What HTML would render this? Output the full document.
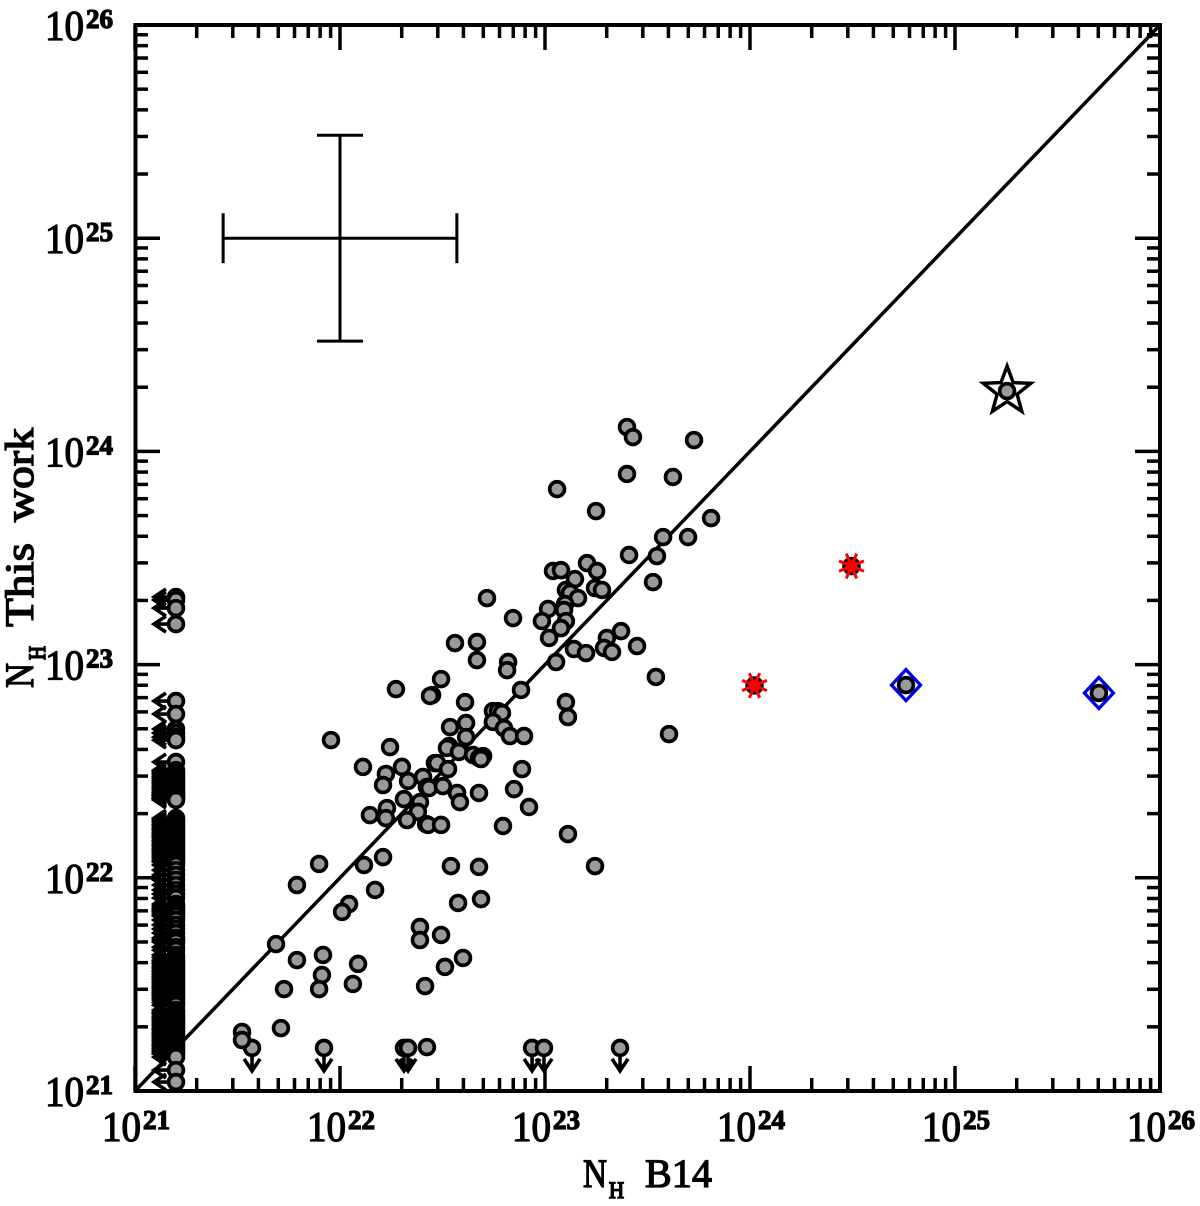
<!DOCTYPE html>
<html lang="en">
<head>
<meta charset="utf-8">
<title>NH comparison chart</title>
<style>
html,body{margin:0;padding:0;background:#fff;}
svg{display:block;}
text{font-family:"Liberation Serif",serif;fill:#000;stroke:#000;}
</style>
</head>
<body>
<svg id="chart" width="1200" height="1206" viewBox="0 0 1200 1206" xmlns="http://www.w3.org/2000/svg">
<rect width="1200" height="1206" fill="#fff"/>
<g id="ticks"></g>
<g id="ticklabels"></g>
<g id="marks"></g>
<rect x="135.5" y="25" width="1024.5" height="1066" fill="none" stroke="#000" stroke-width="4"/>
<g>
<text x="583" y="1187" font-size="40" stroke-width="1.3" textLength="24" lengthAdjust="spacingAndGlyphs">N</text>
<text x="609" y="1198" font-size="23" stroke-width="1.6" textLength="15" lengthAdjust="spacingAndGlyphs">H</text>
<text x="645" y="1187" font-size="40" stroke-width="1.3" textLength="67" lengthAdjust="spacing">B14</text>
</g>
<g>
<text transform="translate(33 688) rotate(-90)" font-size="40" stroke-width="1.3" textLength="25" lengthAdjust="spacingAndGlyphs">N</text>
<text transform="translate(45 660) rotate(-90)" font-size="23" stroke-width="1.6" textLength="14" lengthAdjust="spacingAndGlyphs">H</text>
<text transform="translate(33 627) rotate(-90)" font-size="40" stroke-width="1.3" textLength="84" lengthAdjust="spacingAndGlyphs">This</text>
<text transform="translate(33 522) rotate(-90)" font-size="40" stroke-width="1.3" textLength="94" lengthAdjust="spacingAndGlyphs">work</text>
</g>
</svg>
<script>
// all values are log10(NH)
const axisMin = 21;
const axisMax = 26;
const decades = [21, 22, 23, 24, 25, 26];
const tickExponents = ["21", "22", "23", "24", "25", "26"];
const minorFactors = [2, 3, 4, 5, 6, 7, 8, 9];

const detectionsX = [23.400,23.429,23.727,23.400,23.624,23.059,23.249,23.810,23.576,23.698,23.410,23.546,23.205,23.254,23.039,23.078,23.527,23.146,23.102,23.122,23.161,23.098,23.093,23.244,23.278,22.717,23.015,22.985,22.844,23.102,23.078,23.020,23.141,23.200,23.371,23.302,23.288,23.327,23.449,22.561,22.668,22.668,22.820,22.815,23.054,23.541,22.883,22.493,22.273,22.449,22.439,22.610,23.102,23.112,22.746,22.771,22.790,22.746,22.800,22.829,22.898,23.605,22.615,22.537,22.615,21.956,22.244,22.532,22.522,22.580,22.649,22.698,22.678,22.688,22.463,22.473,22.527,22.112,22.302,22.888,22.224,22.210,22.332,22.405,22.424,22.434,22.502,22.849,22.571,22.678,22.585,22.922,22.312,22.390,22.380,22.229,22.224,22.146,22.327,22.420,22.429,22.493,22.795,23.112,22.210,21.898,22.117,22.541,22.678,23.244,21.790,22.171,22.576,22.688,22.044,22.010,22.390,22.390,22.493,21.688,21.790,21.917,21.912,22.088,22.512,22.600,21.898,22.063,21.727,22.415,21.712,21.522,21.522,22.424];
const detectionsY = [24.114,24.067,24.053,23.894,23.880,23.823,23.720,23.687,23.598,23.598,23.514,23.509,23.476,23.439,23.439,23.443,23.387,23.401,23.350,23.336,23.312,23.284,23.256,23.359,23.350,23.312,23.261,23.204,23.218,23.204,23.171,23.125,23.073,23.054,23.157,23.125,23.078,23.059,23.087,23.101,23.106,23.021,23.012,22.974,23.012,22.942,22.881,22.932,22.885,22.857,22.853,22.824,22.824,22.754,22.782,22.782,22.773,22.731,22.702,22.665,22.665,22.674,22.726,22.707,22.660,22.646,22.613,22.618,22.609,22.590,22.576,22.571,22.562,22.557,22.538,22.538,22.510,22.520,22.520,22.510,22.487,22.435,22.454,22.473,22.426,22.421,22.430,22.416,22.398,22.398,22.355,22.332,22.369,22.355,22.309,22.327,22.280,22.294,22.271,22.252,22.248,22.248,22.243,22.205,22.097,22.065,22.060,22.055,22.051,22.055,21.966,21.943,21.882,21.900,21.877,21.840,21.769,21.708,21.732,21.689,21.614,21.638,21.544,21.596,21.582,21.624,21.478,21.502,21.478,21.492,21.295,21.277,21.239,21.206];

const upperLimitX = [21.571,21.922,22.312,22.332,22.937,22.995,23.366];
const upperLimitYLevel = 21.202;

const leftLimitXLevel = 21.2;
const leftLimitY = [23.317,23.303,23.265,23.190,22.829,22.768,22.698,22.679,22.660,22.646,22.543,22.505,22.496,22.487,22.477,22.468,22.458,22.449,22.440,22.430,22.421,22.412,22.402,22.393,22.386,22.379,22.372,22.365,22.280,22.271,22.262,22.252,22.243,22.233,22.224,22.214,22.205,22.196,22.187,22.177,22.168,22.158,22.149,22.139,22.130,22.121,22.112,22.102,22.093,22.083,22.074,22.060,22.036,22.013,21.990,21.966,21.943,21.924,21.905,21.877,21.867,21.858,21.849,21.840,21.830,21.821,21.802,21.779,21.760,21.741,21.718,21.708,21.699,21.675,21.661,21.638,21.626,21.614,21.605,21.596,21.586,21.577,21.567,21.558,21.548,21.539,21.530,21.521,21.511,21.502,21.492,21.483,21.474,21.464,21.455,21.446,21.436,21.427,21.415,21.403,21.380,21.370,21.361,21.351,21.342,21.333,21.324,21.314,21.305,21.295,21.286,21.276,21.267,21.258,21.249,21.239,21.230,21.220,21.211,21.201,21.192,21.183,21.174,21.159,21.098,21.042];

const redX = [24.495, 24.022];
const redY = [23.462, 22.902];
const blueX = [24.761, 25.702];
const blueY = [22.904, 22.867];
const starX = [25.254];
const starY = [24.283];

const errorCenterX = 22;
const errorCenterY = 25;
const errorHalfX = 0.57;
const errorHalfY = 0.483;

const NS = "http://www.w3.org/2000/svg";
const xPx = v => 135 + (v - axisMin) * (1160 - 135) / (axisMax - axisMin);
const yPx = v => 1091 - (v - axisMin) * (1091 - 25) / (axisMax - axisMin);
const ticksG = document.getElementById("ticks");
const labelsG = document.getElementById("ticklabels");
const marksG = document.getElementById("marks");

function mk(tag, parent, props) {
  const el = document.createElementNS(NS, tag);
  for (const k in props) el.setAttribute(k, props[k]);
  parent.appendChild(el);
  return el;
}
function seg(parent, x1, y1, x2, y2, w, color) {
  return mk("line", parent, {x1: x1, y1: y1, x2: x2, y2: y2, stroke: color || "#000", "stroke-width": w});
}

// ticks
decades.forEach(d => {
  const offsets = [0];
  if (d < axisMax) minorFactors.forEach(f => offsets.push(Math.log10(f)));
  offsets.forEach((o, i) => {
    const len = i === 0 ? 25 : 13;
    const w = 3.5;
    const px = xPx(d + o);
    const py = yPx(d + o);
    const t1 = seg(ticksG, px, 1091, px, 1091 - len, w);
    
    
    const t2 = seg(ticksG, px, 25, px, 25 + len, w);
    
    
    const t3 = seg(ticksG, 135, py, 135 + len, py, w);
    
    
    const t4 = seg(ticksG, 1160, py, 1160 - len, py, w);
    
    
  });
});

// tick labels
function addLabel(x, y, exp, nameStr) {
  const g = mk("g", labelsG, {});
  
  
  const a = mk("text", g, {x: x, y: y, "font-size": 42, "stroke-width": 1.3, textLength: 39, lengthAdjust: "spacingAndGlyphs"});
  a.textContent = "10";
  const b = mk("text", g, {x: x + 41, y: y - 12, "font-size": 27, "font-weight": "bold", "stroke-width": 1.3, textLength: 27, lengthAdjust: "spacingAndGlyphs"});
  b.textContent = exp;
}
decades.forEach((d, i) => {
  addLabel(xPx(d) - 33, 1141, tickExponents[i], 'x-tick-label');
  addLabel(45, yPx(d) + 15, tickExponents[i], 'y-tick-label');
});

// diagonal one-to-one line
const diag = seg(marksG, xPx(axisMin), yPx(axisMin), xPx(axisMax), yPx(axisMax), 3.5);



// representative error bar
const errG = mk("g", marksG, {});


const exl = xPx(errorCenterX - errorHalfX), exr = xPx(errorCenterX + errorHalfX), ecx = xPx(errorCenterX);
const eyt = yPx(errorCenterY + errorHalfY), eyb = yPx(errorCenterY - errorHalfY), ecy = yPx(errorCenterY);
seg(errG, exl, ecy, exr, ecy, 3);
seg(errG, ecx, eyt, ecx, eyb, 3);
seg(errG, exl, ecy - 25, exl, ecy + 25, 3);
seg(errG, exr, ecy - 25, exr, ecy + 25, 3);
seg(errG, ecx - 23, eyt, ecx + 23, eyt, 3);
seg(errG, ecx - 23, eyb, ecx + 23, eyb, 3);

function dot(cx, cy) {
  return mk("circle", marksG, {cx: cx, cy: cy, r: 7.4, fill: "#999", stroke: "#000", "stroke-width": 3.7});
}

// left-limit arrows then their circles
leftLimitY.forEach(v => {
  const px = xPx(leftLimitXLevel), py = yPx(v);
  const arrow = mk("path", marksG, {d: `M${px} ${py}H${px - 22}M${px - 10} ${py - 8}L${px - 22} ${py}L${px - 10} ${py + 8}`, fill: "none", stroke: "#000", "stroke-width": 3.6});
  
  
});
leftLimitY.forEach(v => {
  const c = dot(xPx(leftLimitXLevel), yPx(v));
  
  
});

// downward limits
upperLimitX.forEach(v => {
  const px = xPx(v), py = yPx(upperLimitYLevel);
  const arrow = mk("path", marksG, {d: `M${px} ${py}V${py + 23}M${px - 8} ${py + 11}L${px} ${py + 23}L${px + 8} ${py + 11}`, fill: "none", stroke: "#000", "stroke-width": 3.6});
  
  
});
upperLimitX.forEach(v => {
  const c = dot(xPx(v), yPx(upperLimitYLevel));
  
  
});

// detections
detectionsX.forEach((v, i) => {
  const c = dot(xPx(v), yPx(detectionsY[i]));
  
  
});

// star marker
starX.forEach((v, i) => {
  const cx = xPx(v), cy = yPx(starY[i]);
  let pts = "";
  for (let k = 0; k < 10; k++) {
    const R = k % 2 ? 10.5 : 25;
    const a = -Math.PI / 2 + k * Math.PI / 5;
    pts += (cx + R * Math.cos(a)).toFixed(1) + "," + (cy + R * Math.sin(a)).toFixed(1) + " ";
  }
  const s = mk("polygon", marksG, {points: pts, fill: "none", stroke: "#000", "stroke-width": 3.5});
  
  
  const c = dot(cx, cy);
  
  
});

// blue diamonds
blueX.forEach((v, i) => {
  const cx = xPx(v), cy = yPx(blueY[i]);
  const c = dot(cx, cy);
  
  
  const d = mk("polygon", marksG, {points: `${cx},${cy - 15.5} ${cx + 14.5},${cy} ${cx},${cy + 15.5} ${cx - 14.5},${cy}`, fill: "none", stroke: "#0000e6", "stroke-width": 3.3});
  
  
});

// red asterisks
redX.forEach((v, i) => {
  const cx = xPx(v), cy = yPx(redY[i]);
  const c = dot(cx, cy);
  
  
  const g = mk("g", marksG, {});
  
  
  mk("circle", g, {cx: cx, cy: cy, r: 6, fill: "#f00"});
  for (let k = 0; k < 8; k++) {
    const a = Math.PI / 8 + k * Math.PI / 4;
    seg(g, cx, cy, cx + 13.5 * Math.cos(a), cy + 13.5 * Math.sin(a), 3, "#f00");
  }
});
</script>
</body>
</html>
